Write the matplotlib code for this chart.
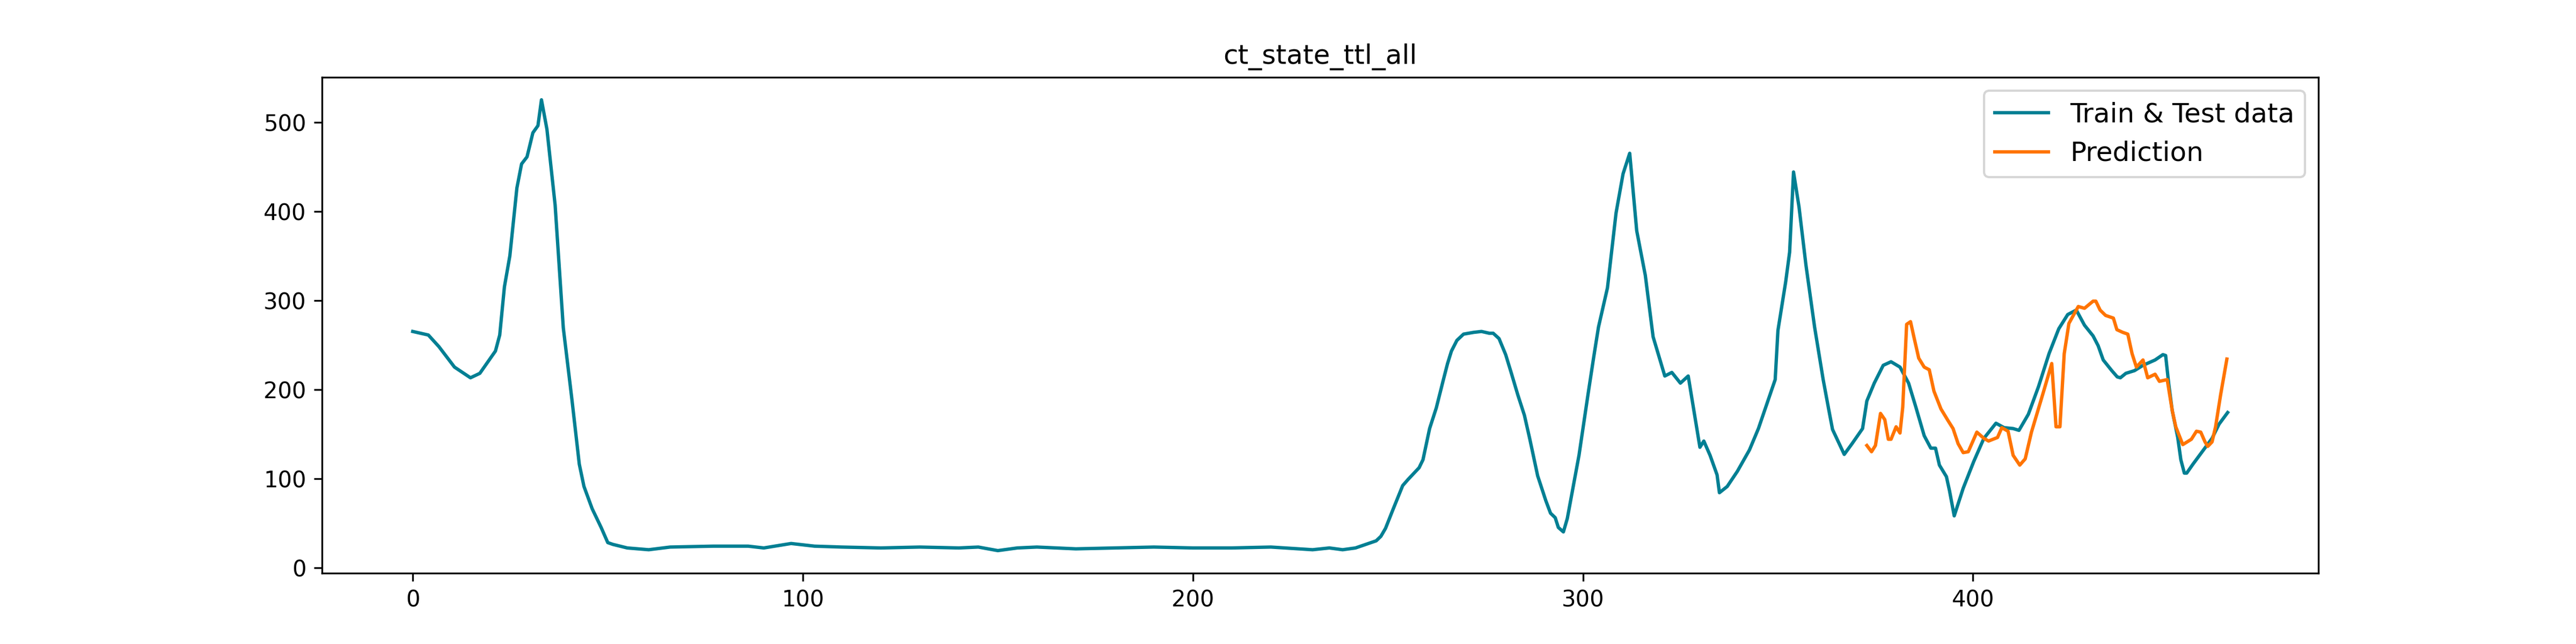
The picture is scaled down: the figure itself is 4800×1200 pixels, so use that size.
import matplotlib
matplotlib.use('Agg')
import matplotlib.pyplot as plt

# Train & Test data (vertices)
train_x = [0, 4, 6.7, 10.7, 14.8, 17.2, 21.2, 22.3, 23.5, 24.9, 26.7, 27.9, 29.3, 30.8, 32.1, 33,
           34.4, 36.5, 38.6, 40.8, 42.7, 43.9, 46, 48.3, 50, 51.3, 55, 60.5, 66, 77, 86, 90, 97, 103,
           110, 120, 130, 140, 145, 150, 155, 160, 170, 180, 190, 200, 210, 220, 230.7, 235, 238.4,
           241.7, 245, 247, 248.2, 249.4, 251.3, 253.8, 255.2, 258, 259, 260.7, 262.4, 264.3, 265.3,
           266.3, 267.7, 269.4, 272, 274, 276, 277, 278.5, 280.2, 281.6, 283.3, 285, 286.4, 288.4,
           290.5, 291.7, 292.9, 293.7, 295, 296, 299, 301.3, 302.8, 304, 306.3, 308.5, 310.3, 312,
           313.8, 316, 318, 321, 322.8, 325, 327, 330, 331, 332.6, 334.4, 335, 337, 339.6, 342.7,
           345, 349.3, 350, 352, 353, 354, 355.4, 357.2, 359.4, 361.6, 363, 364, 367, 369, 371.7,
           372.8, 374.7, 377, 379, 381.3, 383.5, 385.3, 387.5, 389.2, 390.4, 391.4, 393.2, 394,
           395.2, 397.5, 400.2, 402.8, 405.9, 408, 410.3, 411.8, 414.2, 416.8, 419.5, 422, 424.3,
           426.5, 428.6, 430.8, 432.1, 433.4, 435.6, 437, 437.8, 439.2, 441.4, 443.6, 446.7, 448.7,
           449.4, 450.2, 451.1, 452.5, 453.3, 454.2, 454.8, 456.4, 459.1, 461.3, 463.1, 465.3]
train_y = [265, 261, 248, 225, 213, 218, 243, 261, 315, 350, 426, 453, 461, 488, 496, 525,
           492, 407, 269, 189, 116, 91, 66, 45, 28, 26, 22, 20, 23, 24, 24, 22, 27, 24,
           23, 22, 23, 22, 23, 19, 22, 23, 21, 22, 23, 22, 22, 23, 20, 22, 20,
           22, 27, 30, 35, 44, 65, 92, 99, 112, 121, 156, 179, 212, 229,
           243, 255, 262, 264, 265, 263, 263, 257, 239, 219, 194, 171, 144, 103,
           75, 61, 56, 45, 40, 55, 126, 194, 237, 270, 314, 398, 442, 465,
           378, 328, 259, 215, 219, 207, 215, 135, 142, 126, 104, 84, 91, 108, 132,
           156, 211, 266, 321, 354, 444, 405, 339, 270, 211, 178, 155, 127, 139, 156,
           187, 207, 227, 231, 225, 207, 181, 148, 134, 134, 115, 102, 86,
           58, 89, 119, 145, 162, 157, 156, 154, 172, 203, 240, 268, 284,
           289, 272, 260, 249, 233, 221, 214, 213, 218, 221, 227, 233, 239,
           238, 206, 176, 146, 121, 106, 106, 116, 132, 145, 161, 174]

# Prediction
pred_x = [372.8, 374, 375, 376.3, 377.4, 378.3, 379, 380.3, 381.3, 382, 383, 384, 384.8, 386.1,
          387.5, 388.8, 390, 391.8, 393.6, 394.9, 396.2, 397.5, 398.8, 401, 402.8, 404, 406.3,
          407.4, 409, 410.3, 412, 413.4, 415, 418, 420.2, 421.3, 422.3, 423.4, 424.6, 427, 428.6,
          430.8, 431.5, 432.6, 434, 436, 436.9, 438.4, 439.7, 440.8, 441.9, 443.6, 444.8, 446.7,
          447.8, 449.8, 451.1, 452, 453.8, 456, 457.3, 458.4, 459.5, 460.2, 461.3, 462.2, 463.5,
          465.1]
pred_y = [137, 130, 137, 173, 166, 144, 144, 158, 151, 180, 273, 276, 260, 235,
          225, 222, 198, 178, 165, 156, 139, 129, 130, 152, 145, 142, 146,
          157, 153, 126, 115, 122, 152, 196, 229, 158, 158, 240, 274, 293, 291,
          299, 299, 289, 283, 280, 267, 264, 262, 240, 225, 233, 213, 217,
          209, 211, 176, 158, 138, 144, 153, 152, 141, 136, 141, 158, 194,
          234]

fig, ax = plt.subplots(figsize=(16, 4), dpi=300)
ax.plot(train_x, train_y, color='#007f93', linewidth=1.5, label='Train & Test data')
ax.plot(pred_x, pred_y, color='#ff7400', linewidth=1.5, label='Prediction')
ax.set_title('ct_state_ttl_all', fontsize=12)
ax.legend(loc='upper right', fontsize=12)
plt.savefig('out.png')
